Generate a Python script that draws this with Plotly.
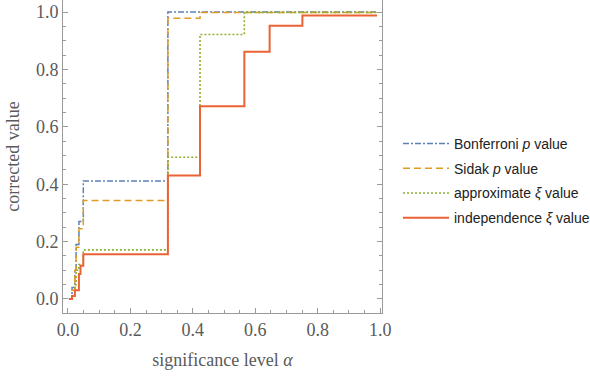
import plotly.graph_objects as go

# significance level breakpoints
alpha = [0.003, 0.013, 0.022, 0.026, 0.035, 0.040, 0.049, 0.320, 0.423, 0.565, 0.646, 0.751, 0.990]

bonferroni = [0.0, 0.04, 0.10, 0.19, 0.27, 0.27, 0.411, 1.000, 1.000, 1.000, 1.000, 1.000, 1.000]
sidak      = [0.0, 0.03, 0.10, 0.18, 0.245, 0.245, 0.343, 0.978, 0.998, 0.998, 0.998, 0.998, 0.998]
approx_xi  = [0.0, 0.01, 0.05, 0.10, 0.12, 0.12, 0.171, 0.494, 0.922, 0.999, 0.999, 0.999, 0.999]
indep_xi   = [0.0, 0.01, 0.03, 0.03, 0.087, 0.116, 0.156, 0.430, 0.672, 0.862, 0.952, 0.988, 0.988]

names = ["Bonferroni <i>p</i> value", "Sidak <i>p</i> value",
         "approximate <i>ξ</i> value", "independence <i>ξ</i> value"]
colors = ["#5E81B5", "#E19C24", "#8FB032", "#EB6235"]
dashes = ["6px,2px,2px,2px", "7px,4px", "2px,2px", "solid"]
widths = [1.5, 1.5, 1.6, 2.0]
series = [bonferroni, sidak, approx_xi, indep_xi]

fig = go.Figure()
for i, (nm, ys) in enumerate(zip(names, series)):
    fig.add_trace(go.Scatter(
        x=alpha, y=ys, mode="lines", name=nm, line_shape="hv",
        line=dict(color=colors[i], width=widths[i], dash=dashes[i]),
        legendgroup=str(i)))

axcol = "#9a9a9a"
tickfont = dict(family="Liberation Serif", size=18, color="#5a5a5a")
fig.update_layout(
    width=590, height=377,
    margin=dict(l=63, r=208, t=0, b=64, autoexpand=False),
    plot_bgcolor="white", paper_bgcolor="white",
    showlegend=True,
    legend=dict(xref="container", yref="container", x=398/590, y=1-128/377,
                xanchor="left", yanchor="top",
                font=dict(family="Liberation Sans", size=14, color="#222"),
                tracegroupgap=3.5, itemwidth=46, bgcolor="rgba(0,0,0,0)"),
)
fig.update_xaxes(range=[-0.016, 1.006], showgrid=False, zeroline=False, automargin=False,
                 showline=True, linecolor=axcol, linewidth=1, mirror=False,
                 ticks="inside", ticklen=5, tickcolor=axcol, tickvals=[0, 0.2, 0.4, 0.6, 0.8, 1.0],
                 ticktext=["0.0", "0.2", "0.4", "0.6", "0.8", "1.0"],
                 minor=dict(ticks="inside", ticklen=3, dtick=0.05, tick0=0, tickcolor=axcol, showgrid=False),
                 tickfont=tickfont,
                 title=dict(text="significance level <i>α</i>", font=tickfont, standoff=14))
fig.update_yaxes(range=[-0.049, 1.042], showgrid=False, zeroline=False, automargin=False,
                 showline=True, linecolor=axcol, linewidth=1, mirror="ticks",
                 ticks="inside", ticklen=5, tickcolor=axcol, tickvals=[0, 0.2, 0.4, 0.6, 0.8, 1.0],
                 ticktext=["0.0", "0.2", "0.4", "0.6", "0.8", "1.0"],
                 minor=dict(ticks="inside", ticklen=3, dtick=0.05, tick0=0, tickcolor=axcol, showgrid=False),
                 tickfont=tickfont,
                 title=dict(text="corrected value", font=tickfont, standoff=11))
fig.write_html("out.html", config={"displayModeBar": False},
               post_script="document.body.style.margin='0';document.body.style.overflow='hidden';")
